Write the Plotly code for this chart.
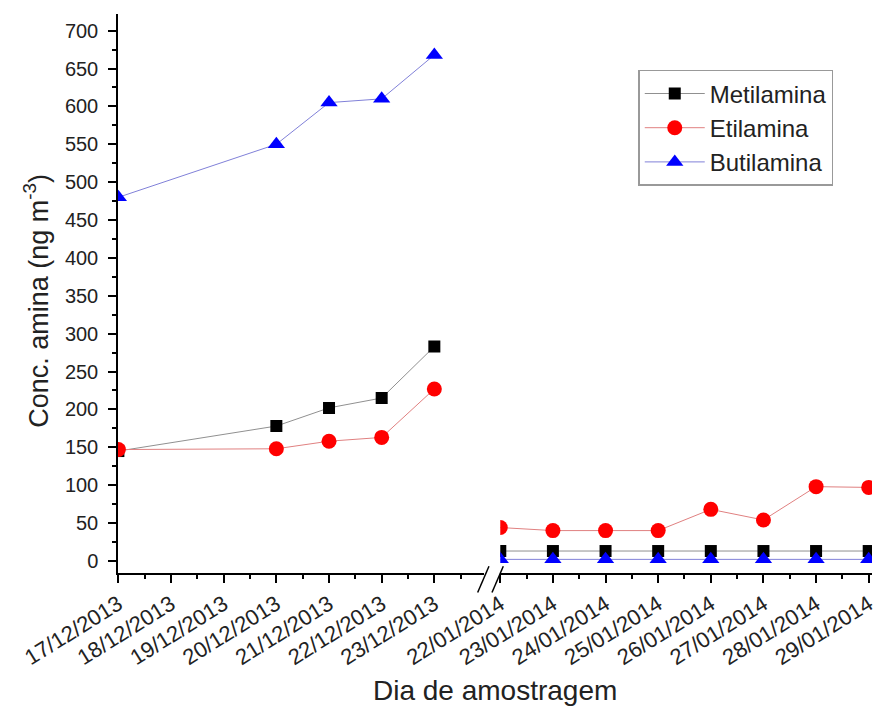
import plotly.graph_objects as go

dec_dates = ["2013-12-17", "2013-12-20", "2013-12-21", "2013-12-22", "2013-12-23"]
jan_dates = ["2014-01-22", "2014-01-23", "2014-01-24", "2014-01-25",
             "2014-01-26", "2014-01-27", "2014-01-28", "2014-01-29"]

metil_dec = [145, 178, 202, 215, 283]
etil_dec = [147, 148, 158, 163, 227]
butil_dec = [480, 550, 605, 610, 668]

metil_jan = [13, 13, 13, 13, 13, 13, 13, 13]
etil_jan = [44, 40, 40, 40, 68, 54, 98, 97]
butil_jan = [2, 2, 2, 2, 2, 2, 2, 2]

series = [
    ("Metilamina", metil_dec, metil_jan, "black", "#909090", "square", 12),
    ("Etilamina", etil_dec, etil_jan, "#ff0000", "#e08080", "circle", 15),
    ("Butilamina", butil_dec, butil_jan, "#0000ff", "#8080d8", "triangle-up", 15),
]

FONT = "Liberation Sans, Arial, sans-serif"

fig = go.Figure()
for name, dvals, jvals, mcol, lcol, sym, sz in series:
    fig.add_trace(go.Scatter(
        x=dec_dates, y=dvals, name=name, mode="lines+markers",
        line=dict(color=lcol, width=1),
        marker=dict(color=mcol, symbol=sym, size=sz),
        xaxis="x", yaxis="y", legendgroup=name, showlegend=True))
    fig.add_trace(go.Scatter(
        x=jan_dates, y=jvals, name=name, mode="lines+markers",
        line=dict(color=lcol, width=1),
        marker=dict(color=mcol, symbol=sym, size=sz),
        xaxis="x2", yaxis="y", legendgroup=name, showlegend=False))

common_x = dict(
    type="date", tickformat="%d/%m/%Y", dtick=86400000, tickangle=-32,
    showgrid=False, zeroline=False, showline=True, linecolor="black", linewidth=1.5,
    ticks="outside", ticklen=8, tickwidth=1.5, tickcolor="black",
    tickfont=dict(family=FONT, size=22, color="#222"),
    automargin=False, ticklabeloverflow="allow",
    minor=dict(ticks="outside", ticklen=4, tickwidth=1.5, tickcolor="black",
               dtick=43200000, showgrid=False),
)

fig.update_layout(
    width=876, height=707,
    margin=dict(l=118, r=4, t=14, b=134),
    plot_bgcolor="white", paper_bgcolor="white",
    font=dict(family=FONT, color="#222"),
    xaxis=dict(common_x, domain=[0, 0.486], tick0="2013-12-17",
               range=["2013-12-16 23:50", "2013-12-23 22:50"], anchor="y"),
    xaxis2=dict(common_x, domain=[0.507, 1], tick0="2014-01-22",
                range=["2014-01-22 00:00", "2014-01-29 01:30"], anchor="y"),
    yaxis=dict(range=[-16, 722], dtick=50, tick0=0, automargin=False,
               showgrid=False, zeroline=False, showline=True, linecolor="black", linewidth=1.5,
               ticks="outside", ticklen=8, tickwidth=1.5, tickcolor="black",
               ticklabelstandoff=6,
               tickfont=dict(family=FONT, size=20, color="#222"),
               minor=dict(ticks="outside", ticklen=4, tickwidth=1.5, tickcolor="black", dtick=25)),
    legend=dict(x=0.69, y=0.9, xanchor="left", yanchor="top",
                bordercolor="#999", borderwidth=1.5, bgcolor="white",
                font=dict(family=FONT, size=24, color="#222"), itemwidth=60, tracegroupgap=0),
    showlegend=True,
    annotations=[
        dict(text="Dia de amostragem", x=0.5, y=0, xref="paper", yref="paper",
             yshift=-117, yanchor="middle", showarrow=False,
             font=dict(family=FONT, size=28, color="#222")),
        dict(text="Conc. amina (ng m<sup>-3</sup>)", x=0, y=0.487, xref="paper", yref="paper",
             xshift=-82, xanchor="center", yanchor="middle", textangle=-90, showarrow=False,
             font=dict(family=FONT, size=27, color="#222")),
    ],
    shapes=[
        dict(type="line", xref="paper", yref="paper", x0=0.477, x1=0.492, y0=-0.035, y1=0.012,
             line=dict(color="black", width=1.5)),
        dict(type="line", xref="paper", yref="paper", x0=0.496, x1=0.511, y0=-0.035, y1=0.012,
             line=dict(color="black", width=1.5)),
    ],
)

fig.write_html("out.html", config={"displayModeBar": False},
               post_script="document.body.style.margin='0';document.body.style.padding='0';")
